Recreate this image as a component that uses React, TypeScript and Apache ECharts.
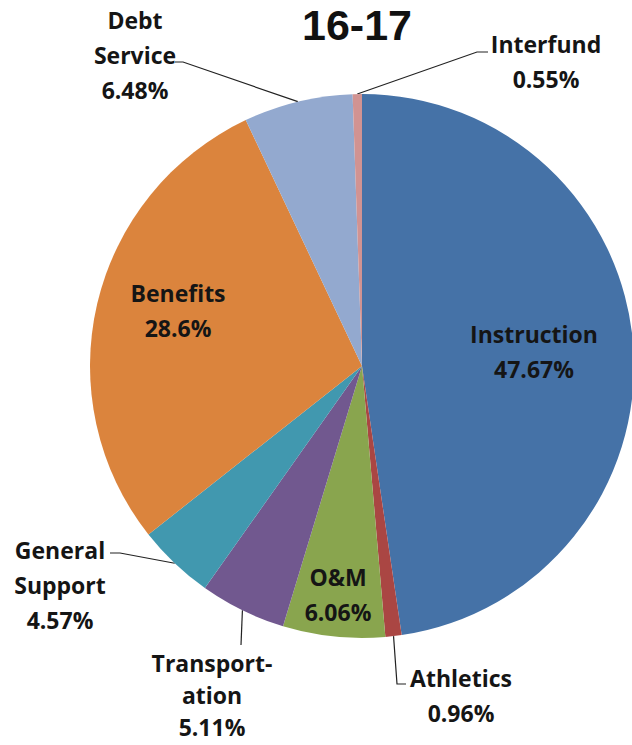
import React, { useEffect, useRef } from "react";
import * as echarts from "echarts";

const TITLE = "16-17";
const CATEGORIES = [
  "Instruction",
  "Athletics",
  "O&M",
  "Transportation",
  "General Support",
  "Benefits",
  "Debt Service",
  "Interfund",
];
const LABEL_TEXT = [
  "Instruction",
  "Athletics",
  "O&M",
  "Transport-\nation",
  "General\nSupport",
  "Benefits",
  "Debt\nService",
  "Interfund",
];
const VALUES = [47.67, 0.96, 6.06, 5.11, 4.57, 28.6, 6.48, 0.55];
const COLORS = [
  "#4572A7",
  "#AA4643",
  "#89A54E",
  "#71588F",
  "#4198AF",
  "#DB843D",
  "#93A9CF",
  "#D19392",
];

// label placement (layout, not data)
type LabelPos = { x: number; y: number; lh?: number; line?: number[][] };
const LABEL_LAYOUT: LabelPos[] = [
  { x: 534, y: 351 },
  { x: 461, y: 695, line: [[397, 684], [406, 684]] },
  { x: 338, y: 594 },
  { x: 212, y: 695, lh: 32, line: [[241, 645], [241, 645]] },
  { x: 60, y: 585, line: [[120, 553], [110, 553]] },
  { x: 178, y: 310 },
  { x: 135, y: 55, line: [[183, 62], [175, 62]] },
  { x: 546, y: 61, line: [[477, 52], [488, 52]] },
];

const FONT = '"Open Sans", "DejaVu Sans", sans-serif';
const TITLE_FONT = '"Liberation Sans", Arial, sans-serif';

export default function App() {
  const ref = useRef<HTMLDivElement>(null);
  useEffect(() => {
    if (!ref.current) return;
    const chart = echarts.init(ref.current, null, { renderer: "svg" });
    chart.setOption({
      animation: false,
      backgroundColor: "#ffffff",
      title: {
        text: TITLE,
        left: 357,
        top: 2,
        padding: 0,
        textAlign: "center",
        textStyle: {
          fontFamily: TITLE_FONT,
          fontWeight: "bold",
          fontSize: 43,
          lineHeight: 45,
          color: "#111111",
        },
      },
      series: [
        {
          type: "pie",
          center: [362, 366],
          radius: 272,
          startAngle: 90,
          clockwise: true,
          avoidLabelOverlap: false,
          itemStyle: { borderWidth: 0 },
          label: {
            show: true,
            position: "outside",
            fontFamily: FONT,
            fontWeight: "bold",
            fontSize: 23,
            lineHeight: 35,
            color: "#151515",
            align: "center",
            formatter: (p: any) => `${LABEL_TEXT[p.dataIndex]}\n${p.value}%`,
          },
          labelLine: {
            show: true,
            length: 20,
            length2: 10,
            lineStyle: { color: "#222222", width: 1.2 },
          },
          labelLayout: (params: any) => {
            const L = LABEL_LAYOUT[params.dataIndex];
            const res: any = {
              x: L.x,
              y: L.y,
              align: "center",
              verticalAlign: "middle",
            };
            if (L.line && params.labelLinePoints) {
              const start = params.labelLinePoints[0];
              res.labelLinePoints = [start, L.line[0], L.line[1]];
            }
            return res;
          },
          data: CATEGORIES.map((name, i) => ({
            name,
            value: VALUES[i],
            itemStyle: { color: COLORS[i] },
            label: LABEL_LAYOUT[i].lh ? { lineHeight: LABEL_LAYOUT[i].lh } : undefined,
            labelLine: { show: !!LABEL_LAYOUT[i].line },
          })),
        },
      ],
    });
    return () => chart.dispose();
  }, []);
  return (
    <div
      ref={ref}
      style={{ position: "fixed", left: 0, top: 0, width: 632, height: 745 }}
    />
  );
}
